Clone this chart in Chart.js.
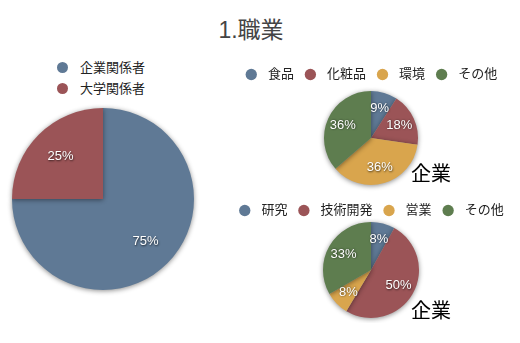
<!DOCTYPE html>
<html>
<head>
<meta charset="utf-8">
<script src="https://cdn.jsdelivr.net/npm/chart.js@4.4.0/dist/chart.umd.min.js"></script>
<style>
  body { margin: 0; background: #fff; width: 520px; height: 343px; position: relative; overflow: hidden;
         font-family: "Liberation Sans", "Noto Sans CJK JP", sans-serif; }
  canvas { position: absolute; }
  .title { position: absolute; left: 0; width: 502px; top: 16px; text-align: center; font-size: 23px; line-height: 28px; color: #444; }
  .tag { position: absolute; left: 411px; font-size: 20px; line-height: 20px; color: #000; font-family: "Noto Sans CJK JP", sans-serif; }
  #legend1 { position: absolute; left: 57px; top: 57px; font-size: 13px; color: #222; }
  #legend1 div { height: 21px; line-height: 21px; white-space: nowrap; }
  #legend1 span { display: inline-block; width: 11px; height: 11px; border-radius: 50%; margin-right: 12px; vertical-align: -1px; }
</style>
</head>
<body>
<div class="title">1.職業</div>
<div id="legend1"></div>
<canvas id="c1" width="206" height="200" style="left:0;top:99px"></canvas>
<canvas id="c2" width="300" height="137" style="left:221px;top:58px"></canvas>
<canvas id="c3" width="300" height="129" style="left:221px;top:194px"></canvas>
<div class="tag" style="top:163px">企業</div>
<div class="tag" style="top:300px">企業</div>
<script>
// all respondents
const whoLabels = ['企業関係者', '大学関係者']
const whoValues = [75, 25]

// industry (companies)
const fieldLabels = ['食品', '化粧品', '環境', 'その他']
const fieldValues = [9, 18, 36, 36]

// job type (companies)
const jobLabels = ['研究', '技術開発', '営業', 'その他']
const jobValues = [8, 50, 8, 33]

const blue = '#5f7995'
const red = '#9b5457'
const yellow = '#d9a54d'
const green = '#5e7d4f'

Chart.defaults.font.family = '"Liberation Sans", "Noto Sans CJK JP", sans-serif'
Chart.defaults.color = '#222'

// soft shadow under the slices
const pieShadow = {
  id: 'pieShadow',
  beforeDatasetsDraw(chart) {
    const c = chart.ctx
    c.save()
    c.shadowColor = 'rgba(0,0,0,0.45)'
    c.shadowBlur = 5
    c.shadowOffsetX = 0
    c.shadowOffsetY = 1
  },
  afterDatasetsDraw(chart) {
    chart.ctx.restore()
  }
}

// percent text inside each slice
const pctLabels = {
  id: 'pctLabels',
  afterDatasetsDraw(chart) {
    const ctx = chart.ctx
    const vals = chart.data.datasets[0].data
    ctx.save()
    ctx.font = '13px "Liberation Sans", sans-serif'
    ctx.fillStyle = '#fff'
    ctx.textAlign = 'center'
    ctx.textBaseline = 'middle'
    ctx.shadowColor = 'rgba(0,0,0,0.7)'
    ctx.shadowBlur = 2
    ctx.shadowOffsetX = 0.5
    ctx.shadowOffsetY = 0.5
    chart.getDatasetMeta(0).data.forEach((arc, i) => {
      const p = arc.getProps(['x', 'y', 'startAngle', 'endAngle', 'outerRadius'], true)
      const mid = (p.startAngle + p.endAngle) / 2
      const r = p.outerRadius * 0.66
      ctx.fillText(vals[i] + '%', p.x + Math.cos(mid) * r, p.y + Math.sin(mid) * r)
    })
    ctx.restore()
  }
}

function makePie(id, labels, values, colors, radius, showLegend) {
  return new Chart(document.getElementById(id), {
    type: 'pie',
    data: {
      labels: labels,
      datasets: [{
        data: values,
        backgroundColor: colors,
        borderWidth: 0,
        radius: radius,
        clip: false
      }]
    },
    options: {
      responsive: false,
      animation: false,
      events: [],
      layout: { padding: { bottom: showLegend ? 10 : 0 } },
      plugins: {
        tooltip: { enabled: false },
        legend: {
          display: showLegend,
          position: 'top',
          labels: {
            usePointStyle: true,
            pointStyle: 'circle',
            boxWidth: 20,
            boxHeight: 8,
            padding: 10,
            font: { size: 13 },
            color: '#222',
            // a little more room between dot and text
            generateLabels(chart) {
              const base = Chart.overrides.pie.plugins.legend.labels.generateLabels(chart)
              return base.map(item => ({ ...item, text: ' ' + item.text }))
            }
          }
        }
      }
    },
    plugins: [pieShadow, pctLabels]
  })
}

const chart1 = makePie('c1', whoLabels, whoValues, [blue, red], 91, false)
makePie('c2', fieldLabels, fieldValues, [blue, red, yellow, green], 47, true)
makePie('c3', jobLabels, jobValues, [blue, red, yellow, green], 48, true)

// vertical legend for the big pie
const legend1 = document.getElementById('legend1')
for (let i = 0; i < whoLabels.length; i++) {
  legend1.innerHTML += `<div><span style="background:${chart1.data.datasets[0].backgroundColor[i]}"></span>${whoLabels[i]}</div>`
}
</script>
</body>
</html>
